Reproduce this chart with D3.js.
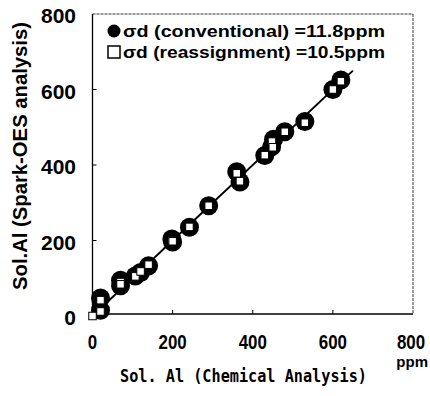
<!DOCTYPE html>
<html><head><meta charset="utf-8">
<script src="https://cdn.jsdelivr.net/npm/d3@7"></script>
<style>html,body{margin:0;padding:0;background:#fff;}</style>
</head><body>
<script>
// Conventional method (filled circles): [chemical, spark-OES]
const convX = [20, 20, 70, 70, 107, 120, 140, 198, 200, 242, 290, 360, 368, 430, 447, 452, 480, 530, 600, 620];
const convY = [48, 15, 95, 80, 106, 115, 133, 204, 196, 235, 292, 382, 355, 425, 448, 468, 488, 515, 600, 625];
// Reassignment method (open squares)
const reasX = [0, 20, 20, 70, 70, 107, 120, 140, 198, 200, 242, 290, 360, 368, 430, 448, 450, 480, 530, 600, 620];
const reasY = [0, 42, 12, 90, 84, 105, 118, 136, 200, 198, 236, 292, 378, 357, 426, 462, 447, 488, 512, 600, 622];
// Fitted line endpoints
const lineX = [0, 650];
const lineY = [0, 650];
const xTicks = [0, 200, 400, 600, 800];
const yTicks = [0, 200, 400, 600, 800];
const legendLabels = ["\u03c3d (conventional)  =11.8ppm", "\u03c3d (reassignment) =10.5ppm"];

(function () {
const W = 430, H = 396;
const svg = d3.select("body").append("svg").attr("width", W).attr("height", H)
  .style("font-family", "'Liberation Sans', Arial, sans-serif");

const x = d3.scaleLinear().domain([0, 800]).range([92.5, 413]);
const y = d3.scaleLinear().domain([0, 800]).range([316, 14]);
const fTop = 14, fBottom = 314, fLeft = x(0), fRight = x(800);

// Frame: top & right light dashed, left & bottom solid
svg.append("line").attr("x1", fLeft).attr("x2", fRight).attr("y1", fTop).attr("y2", fTop)
  .attr("stroke", "#333").attr("stroke-width", 1).attr("stroke-dasharray", "3,1");
svg.append("line").attr("x1", fRight).attr("x2", fRight).attr("y1", fTop).attr("y2", fBottom)
  .attr("stroke", "#333").attr("stroke-width", 1).attr("stroke-dasharray", "3,1");
svg.append("line").attr("x1", fLeft).attr("x2", fLeft).attr("y1", fTop).attr("y2", fBottom)
  .attr("stroke", "#000").attr("stroke-width", 1.3);
svg.append("line").attr("x1", fLeft).attr("x2", fRight).attr("y1", fBottom).attr("y2", fBottom)
  .attr("stroke", "#000").attr("stroke-width", 1.3);

// Ticks (inward)
svg.selectAll(".yt").data(yTicks.filter(d => d > 0 && d < 800)).enter().append("line")
  .attr("x1", fLeft).attr("x2", fLeft + 4).attr("y1", d => y(d)).attr("y2", d => y(d))
  .attr("stroke", "#000").attr("stroke-width", 1);
svg.selectAll(".xt").data(xTicks.filter(d => d > 0 && d < 800)).enter().append("line")
  .attr("x1", d => x(d)).attr("x2", d => x(d)).attr("y1", fBottom).attr("y2", fBottom - 4)
  .attr("stroke", "#000").attr("stroke-width", 1);

// Tick labels
svg.selectAll(".yl").data(yTicks).enter().append("text")
  .attr("x", 76).attr("y", d => y(d) + 9).attr("text-anchor", "end")
  .attr("font-size", 21).attr("font-weight", "bold").text(d => d);
svg.selectAll(".xl").data(xTicks).enter().append("text")
  .attr("x", d => x(d) - (d === 800 ? 2 : 0)).attr("y", 349).attr("text-anchor", "middle")
  .attr("font-size", 20).attr("font-weight", "bold")
  .attr("textLength", d => String(d).length * 9.4).attr("lengthAdjust", "spacingAndGlyphs")
  .text(d => d);

svg.append("text").attr("x", 428).attr("y", 367).attr("text-anchor", "end")
  .attr("font-size", 15).attr("font-weight", "bold").text("ppm");

// Axis titles
svg.append("text").attr("transform", "translate(27,290) rotate(-90)")
  .attr("font-size", 20).attr("font-weight", "bold")
  .attr("textLength", 268).attr("lengthAdjust", "spacingAndGlyphs")
  .text("Sol.Al (Spark-OES analysis)");
svg.append("text").attr("x", 120).attr("y", 382)
  .attr("font-family", "'DejaVu Sans Mono', monospace")
  .attr("font-size", 18).attr("font-weight", "bold")
  .attr("textLength", 247).attr("lengthAdjust", "spacingAndGlyphs")
  .text("Sol. Al (Chemical Analysis)");

// Fitted line
svg.append("line").attr("x1", x(lineX[0])).attr("y1", y(lineY[0]))
  .attr("x2", x(lineX[1])).attr("y2", y(lineY[1]))
  .attr("stroke", "#000").attr("stroke-width", 2);

// Conventional circles
const conv = convX.map((d, i) => [d, convY[i]]);
svg.selectAll(".c").data(conv).enter().append("circle")
  .attr("cx", d => x(d[0])).attr("cy", d => y(d[1])).attr("r", 9.5).attr("fill", "#000");

// Reassignment squares
const reas = reasX.map((d, i) => [d, reasY[i]]);
const s = 7.5;
svg.selectAll(".s").data(reas).enter().append("rect")
  .attr("x", d => x(d[0]) - s / 2).attr("y", d => y(d[1]) - s / 2)
  .attr("width", s).attr("height", s)
  .attr("fill", "#fff").attr("stroke", "#000").attr("stroke-width", 1);

// Legend
svg.append("circle").attr("cx", 114).attr("cy", 31).attr("r", 6.5).attr("fill", "#000");
svg.append("rect").attr("x", 108).attr("y", 46).attr("width", 12).attr("height", 12)
  .attr("fill", "#fff").attr("stroke", "#000").attr("stroke-width", 1.5);
svg.selectAll(".lg").data(legendLabels).enter().append("text")
  .attr("x", 123).attr("y", (d, i) => 37 + i * 21)
  .attr("font-size", 17).attr("font-weight", "bold")
  .attr("textLength", 262).attr("lengthAdjust", "spacingAndGlyphs")
  .text(d => d);
})();
</script>
</body></html>
